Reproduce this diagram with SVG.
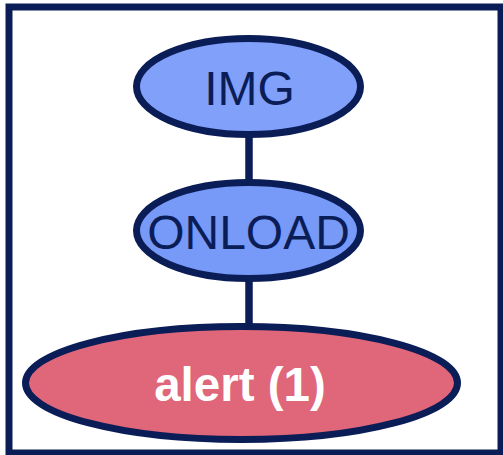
<svg xmlns="http://www.w3.org/2000/svg" width="503" height="455" viewBox="0 0 503 455">
  <style>
    .frame { fill: #ffffff; stroke: #0b1d57; stroke-width: 7; }
    .edge { stroke: #0b1d57; stroke-width: 7.5; fill: none; }
    .node { stroke: #0b1d57; stroke-width: 7; }
    .label { font-family: "Liberation Sans", Arial, sans-serif; text-anchor: middle; }
    .dark { fill: #0b1d57; font-size: 48px; }
    .light { fill: #ffffff; font-size: 47.5px; font-weight: bold; }
  </style>
  <rect class="frame" x="9" y="7" width="492" height="446"/>
  <g id="edges">
    <line class="edge" x1="249" y1="134" x2="249" y2="184"/>
    <line class="edge" x1="249" y1="277" x2="249" y2="328"/>
  </g>
  <g id="node-img">
    <ellipse class="node" cx="248.5" cy="86.5" rx="112" ry="48" fill="#80a0fa"/>
    <text class="label dark" x="249.5" y="105">IMG</text>
  </g>
  <g id="node-onload">
    <ellipse class="node" cx="248.5" cy="230.5" rx="112" ry="48" fill="#7799f7"/>
    <text class="label dark" x="248.5" y="249">ONLOAD</text>
  </g>
  <g id="node-alert">
    <ellipse class="node" cx="241.5" cy="383" rx="216" ry="56.5" fill="#e0667a"/>
    <text class="label light" x="240" y="400.5">alert (1)</text>
  </g>
</svg>
